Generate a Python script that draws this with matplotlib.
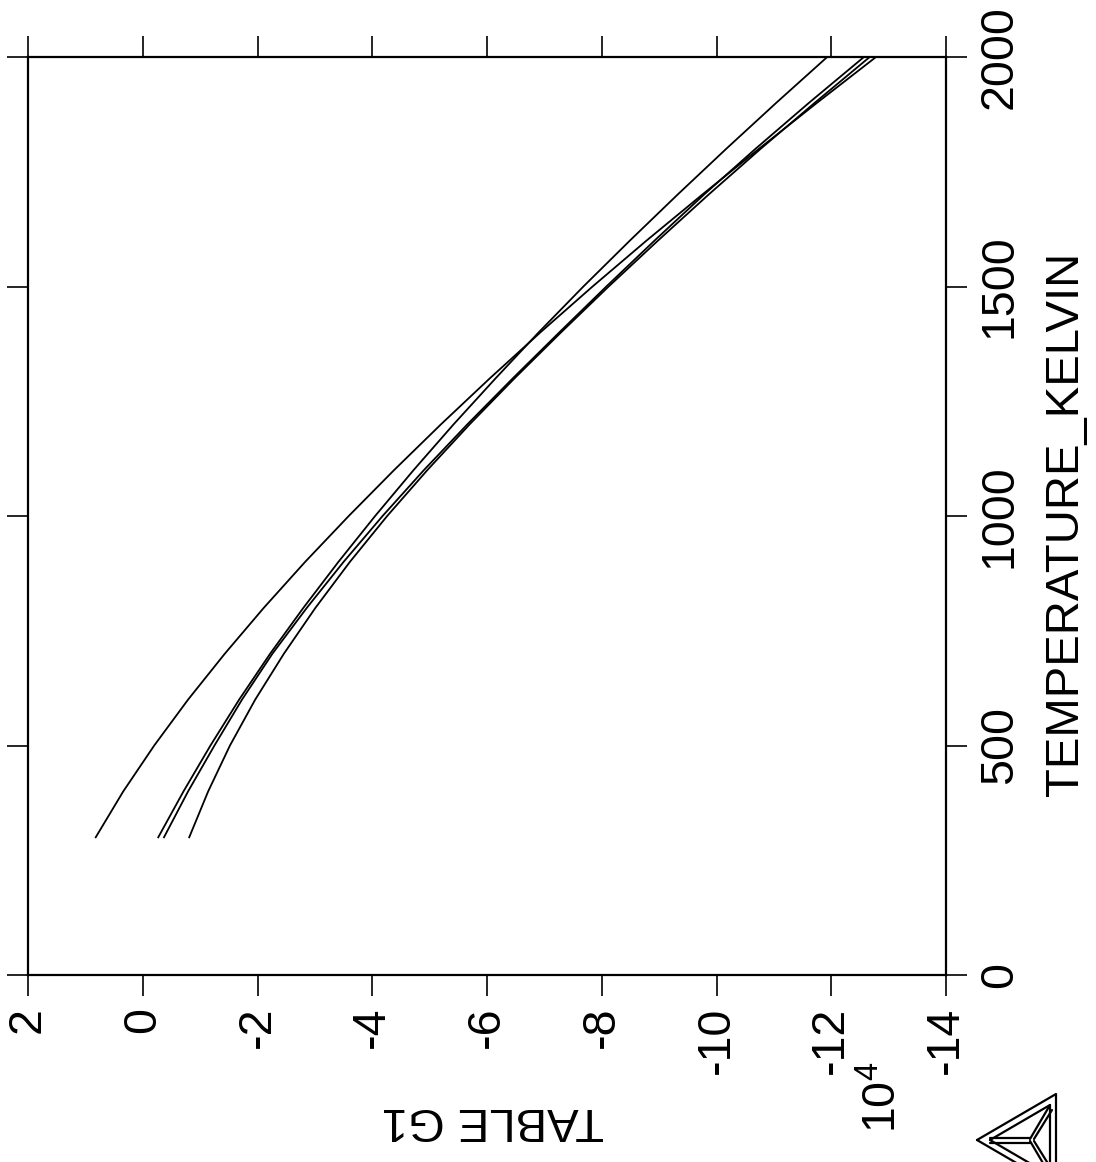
import matplotlib.pyplot as plt
import numpy as np

plt.rcParams['font.family'] = ['Liberation Sans', 'DejaVu Sans']
plt.rcParams['mathtext.fontset'] = 'custom'
plt.rcParams['mathtext.rm'] = 'Liberation Sans'

# temperature (K) and TABLE G1 values in units of 10^4 J/mol
temperature = [300, 400, 500, 600, 700, 800, 900, 1000, 1100, 1200,
               1300, 1400, 1500, 1600, 1700, 1800, 1900, 2000]
g1_a = [0.82, 0.34, -0.20, -0.79, -1.43, -2.11, -2.83, -3.59, -4.38, -5.20,
        -6.05, -6.93, -7.84, -8.78, -9.75, -10.74, -11.75, -12.78]
g1_b = [-0.27, -0.71, -1.18, -1.68, -2.22, -2.80, -3.41, -4.05, -4.72, -5.42,
        -6.15, -6.90, -7.68, -8.49, -9.32, -10.17, -11.04, -11.93]
g1_c = [-0.37, -0.79, -1.25, -1.73, -2.26, -2.86, -3.50, -4.18, -4.90, -5.66,
        -6.45, -7.26, -8.08, -8.92, -9.78, -10.68, -11.61, -12.57]
g1_d = [-0.81, -1.14, -1.52, -1.96, -2.46, -3.01, -3.61, -4.26, -4.96, -5.70,
        -6.48, -7.29, -8.12, -8.98, -9.86, -10.77, -11.71, -12.67]

g1_ticks = list(range(2, -15, -2))
t_ticks = [0, 500, 1000, 1500, 2000]

W, H = 1096, 1162
fig = plt.figure(figsize=(W / 100, H / 100), dpi=100)
ax = fig.add_axes([28 / W, 187 / H, 918 / W, 918 / H])

for g in (g1_a, g1_b, g1_c, g1_d):
    ax.plot(g, temperature, color='black', lw=1.3)

ax.set_xlim(2, -14)
ax.set_ylim(0, 2000)
ax.set_xticks(g1_ticks)
ax.set_xticklabels([str(v) for v in g1_ticks])
ax.set_yticks(t_ticks)
ax.set_yticklabels([str(v) for v in t_ticks])
ax.tick_params(direction='out', length=15, width=1.2, labelsize=33.5, pad=8,
               top=True, bottom=True, left=True, right=True,
               labelleft=False, labelright=True)
ax.tick_params(axis='x', labelrotation=90)
ax.tick_params(axis='y', labelrotation=90)
for t in ax.yaxis.get_major_ticks():
    t.label2.set_va('center')
for s in ax.spines.values():
    s.set_linewidth(1.6)

fig.text(1066 / W, 1 - 524 / H, 'TEMPERATURE_KELVIN', rotation=90,
         ha='center', va='center', fontsize=34)
fig.text(493 / W, 1 - 1120 / H, 'TABLE G1', rotation=180,
         ha='center', va='center', fontsize=34)
fig.text(884 / W, 1 - 1097 / H, r'$\mathregular{10^4}$', rotation=90,
         ha='center', va='center', fontsize=33.5)

# Thermo-Calc logo in the corner
ov = fig.add_axes([0, 0, 1, 1])
ov.set_xlim(0, W)
ov.set_ylim(H, 0)
ov.axis('off')
kw = dict(color='black', lw=1.6, solid_capstyle='round')
ov.plot([977, 1056, 1056, 977], [1140, 1094, 1186, 1140], **kw)
ov.plot([990, 1050, 1050, 990], [1140, 1105, 1175, 1140], **kw)
ov.plot([990, 1030], [1137.5, 1137.5], **kw)
ov.plot([990, 1030], [1142.5, 1142.5], **kw)
ov.plot([1030, 1050], [1139, 1105], **kw)
ov.plot([1034, 1052], [1139, 1110], **kw)
ov.plot([1030, 1050], [1141, 1175], **kw)
ov.plot([1034, 1052], [1141, 1170], **kw)

fig.savefig('out.png', dpi=100, facecolor='white')
